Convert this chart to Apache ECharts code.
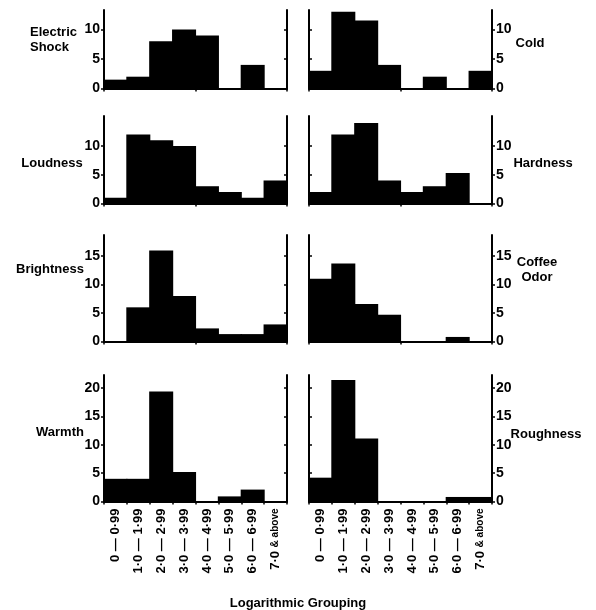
<!DOCTYPE html>
<html><head><meta charset="utf-8">
<script src="https://cdn.jsdelivr.net/npm/echarts@6/dist/echarts.min.js"></script>
<style>html,body{margin:0;padding:0;background:#fff}#c{width:596px;height:610px}</style>
</head><body><div id="c"></div>
<script>
const categories = ['0 — 0·99','1·0 — 1·99','2·0 — 2·99','3·0 — 3·99','4·0 — 4·99','5·0 — 5·99','6·0 — 6·99','7·0 & above'];
const electricShock = [1.5, 2, 8, 10, 9, 0, 4, 0];
const cold = [3, 13, 11.5, 4, 0, 2, 0, 3];
const loudness = [1, 12, 11, 10, 3, 2, 1, 4];
const hardness = [2, 12, 14, 4, 2, 3, 5.3, 0];
const brightness = [0, 6, 16, 8, 2.3, 1.3, 1.3, 3];
const coffeeOdor = [11, 13.7, 6.6, 4.7, 0, 0, 0.8, 0];
const warmth = [4, 4, 19.4, 5.2, 0, 0.9, 2.1, 0];
const roughness = [4.2, 21.4, 11.1, 0, 0, 0, 0.8, 0.8];
const rowTicks = [[0,5,10],[0,5,10],[0,5,10,15],[0,5,10,15,20]];
const rowMax = [13.3, 15.2, 18.7, 22.3];
const panelNames = ['Electric\nShock','Cold','Loudness','Hardness','Brightness','Coffee\nOdor','Warmth','Roughness'];
const xTitle = 'Logarithmic Grouping';

const panelData = [electricShock, cold, loudness, hardness, brightness, coffeeOdor, warmth, roughness];
const rowTop = [10, 116, 235, 375];
const rowBottom = [88.5, 203.5, 341.5, 501.5];
const colLeft = [104, 309];
const W = 183;
const FONT = '"Liberation Sans", Arial, sans-serif';

const grid = [], xAxis = [], yAxis = [], series = [], graphic = [];
panelData.forEach((data, i) => {
  const row = Math.floor(i / 2), col = i % 2;
  grid.push({left: colLeft[col], width: W, top: rowTop[row], height: rowBottom[row] - rowTop[row]});
  xAxis.push({
    type: 'category', gridIndex: i, data: categories, z: 5,
    axisLine: {lineStyle: {color: '#000', width: 2}},
    axisTick: {show: true, length: 3, lineStyle: {color: '#000', width: 1.5}},
    axisLabel: row === 3 ? {
      show: true, interval: 0, rotate: 90, margin: 7, color: '#000',
      fontFamily: FONT, fontWeight: 'bold', fontSize: 13,
      formatter: v => v.indexOf('&') >= 0 ? '7·0 {s|& above}' : v,
      rich: {s: {fontSize: 10, fontWeight: 'bold', fontFamily: FONT, color: '#000'}}
    } : {show: false}
  });
  const labelSide = col === 0 ? 'left' : 'right';
  const otherSide = col === 0 ? 'right' : 'left';
  yAxis.push({
    type: 'value', gridIndex: i, position: labelSide, min: 0, max: rowMax[row], z: 5,
    splitLine: {show: false},
    axisLine: {show: true, lineStyle: {color: '#000', width: 2}},
    axisTick: {show: true, length: 3, customValues: rowTicks[row], lineStyle: {color: '#000', width: 1.5}},
    axisLabel: {show: true, customValues: rowTicks[row], margin: 4, color: '#000',
      fontFamily: FONT, fontWeight: 'bold', fontSize: 14}
  });
  yAxis.push({
    type: 'value', gridIndex: i, position: otherSide, min: 0, max: rowMax[row], z: 5,
    splitLine: {show: false},
    axisLine: {show: true, lineStyle: {color: '#000', width: 2}},
    axisTick: {show: true, inside: true, length: 3, customValues: rowTicks[row], lineStyle: {color: '#000', width: 1.5}},
    axisLabel: {show: false}
  });
  series.push({
    type: 'bar', xAxisIndex: i, yAxisIndex: 2 * i, data: data,
    barWidth: '105%', itemStyle: {color: '#000'},
    silent: true, animation: false
  });
});

const namePos = [
  {x: 30, y: 40}, {x: 530, y: 43}, {x: 52, y: 163}, {x: 543, y: 163},
  {x: 50, y: 269}, {x: 537, y: 270}, {x: 60, y: 432}, {x: 546, y: 434}
];
panelNames.forEach((n, i) => {
  graphic.push({type: 'text', x: namePos[i].x, y: namePos[i].y,
    style: {text: n, font: 'bold 13px ' + FONT, fill: '#000',
      align: i === 0 ? 'left' : 'center', verticalAlign: 'middle', lineHeight: 15}});
});
graphic.push({type: 'text', x: 298, y: 603, style: {text: xTitle, font: 'bold 13px ' + FONT, fill: '#000', align: 'center', verticalAlign: 'middle'}});

const chart = echarts.init(document.getElementById('c'));
chart.setOption({animation: false, grid, xAxis, yAxis, series, graphic});
</script></body></html>
